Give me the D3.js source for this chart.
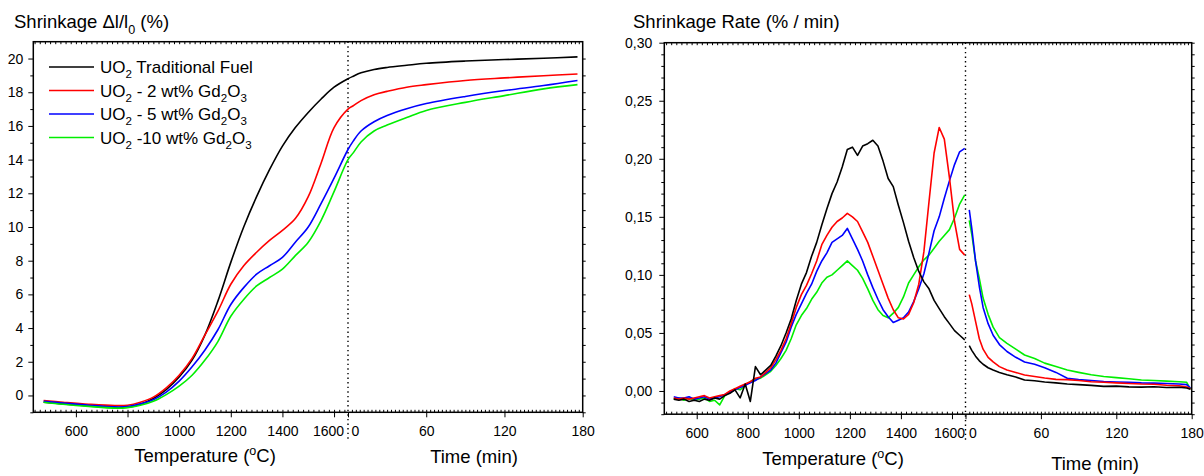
<!DOCTYPE html>
<html lang="en">
<head>
<meta charset="utf-8">
<script src="https://d3js.org/d3.v7.min.js"></script>
<style>
  body { margin: 0; background: #fff; }
  svg { display: block; font-family: 'Liberation Sans', Arial, sans-serif; }
  .tick text { font-size: 14px; fill: #000; font-family: 'Liberation Sans', Arial, sans-serif; }
  .tick line { stroke: #000; }
</style>
</head>
<body>
<div id="chart"></div>
<script>
// ---- shared series info
const seriesNames = ["UO2 Traditional Fuel", "UO2 - 2 wt% Gd2O3", "UO2 - 5 wt% Gd2O3", "UO2 -10 wt% Gd2O3"];
const seriesColors = ["#000000", "#ff0000", "#0000ff", "#00ee00"];

// ---- left panel: shrinkage (%) vs temperature, then vs time
const shrinkTemp = [475, 550, 650, 750, 800, 850, 900, 950, 1000, 1050, 1100, 1150, 1200, 1250, 1300, 1350, 1400, 1450, 1500, 1550, 1600, 1654];
const shrinkBlackT = [-0.40, -0.50, -0.62, -0.72, -0.70, -0.52, -0.18, 0.35, 1.1, 2.1, 3.6, 5.6, 7.9, 10.0, 11.8, 13.4, 14.8, 15.9, 16.8, 17.6, 18.3, 18.8];
const shrinkRedT   = [-0.30, -0.40, -0.52, -0.60, -0.58, -0.40, -0.10, 0.45, 1.2, 2.2, 3.6, 5.0, 6.6, 7.7, 8.5, 9.2, 9.8, 10.5, 11.8, 13.8, 15.9, 17.0];
const shrinkBlueT  = [-0.35, -0.45, -0.58, -0.68, -0.66, -0.50, -0.25, 0.20, 0.85, 1.7, 2.7, 3.9, 5.4, 6.4, 7.2, 7.7, 8.2, 9.1, 10.0, 11.4, 12.9, 14.6];
const shrinkGreenT = [-0.40, -0.52, -0.65, -0.75, -0.72, -0.58, -0.35, 0.05, 0.55, 1.2, 2.1, 3.2, 4.7, 5.7, 6.5, 7.0, 7.5, 8.3, 9.1, 10.4, 12.1, 14.0];

const shrinkTime = [4, 10, 20, 30, 45, 60, 90, 120, 150, 176];
const shrinkBlackt = [18.95, 19.15, 19.35, 19.47, 19.6, 19.72, 19.85, 19.94, 20.02, 20.1];
const shrinkRedt   = [17.2, 17.5, 17.85, 18.05, 18.3, 18.45, 18.7, 18.85, 18.98, 19.08];
const shrinkBluet  = [15.1, 15.7, 16.25, 16.62, 17.02, 17.33, 17.75, 18.1, 18.4, 18.7];
const shrinkGreent = [14.4, 15.05, 15.7, 16.05, 16.5, 16.92, 17.4, 17.8, 18.2, 18.45];

// ---- right panel: shrinkage rate (%/min)
const rateTemp = [510, 530, 550, 570, 590, 610, 630, 650, 670, 690, 710, 730, 750, 770, 790, 810, 830, 850, 870, 890,
  910, 930, 950, 970, 990, 1010, 1030, 1050, 1070, 1090, 1110, 1130, 1150, 1170, 1190, 1210, 1230, 1250, 1270, 1290,
  1310, 1330, 1350, 1370, 1390, 1410, 1430, 1450, 1470, 1490, 1510, 1530, 1550, 1570, 1590, 1610, 1630, 1650];
const rateBlackT = [-0.007, -0.008, -0.007, -0.009, -0.008, -0.009, -0.007, -0.008, -0.006, -0.007, -0.004, -0.002, 0.001, -0.006, 0.006, -0.009, 0.021, 0.014, 0.018, 0.022,
  0.030, 0.039, 0.050, 0.062, 0.078, 0.092, 0.102, 0.116, 0.128, 0.143, 0.157, 0.170, 0.180, 0.193, 0.208, 0.210, 0.203, 0.211, 0.213, 0.216,
  0.211, 0.198, 0.183, 0.176, 0.160, 0.145, 0.129, 0.115, 0.103, 0.094, 0.088, 0.078, 0.071, 0.064, 0.058, 0.052, 0.048, 0.044];
const rateRedT = [-0.006, -0.007, -0.006, -0.007, -0.006, -0.005, -0.004, -0.006, -0.005, -0.004, -0.003, 0.000, 0.002, 0.004, 0.006, 0.008, 0.011, 0.012, 0.016, 0.020,
  0.027, 0.035, 0.045, 0.058, 0.072, 0.083, 0.091, 0.101, 0.112, 0.126, 0.134, 0.141, 0.146, 0.149, 0.153, 0.150, 0.146, 0.137, 0.128, 0.116,
  0.104, 0.092, 0.080, 0.070, 0.063, 0.062, 0.066, 0.076, 0.092, 0.120, 0.163, 0.205, 0.227, 0.217, 0.184, 0.146, 0.122, 0.117];
const rateBlueT = [-0.005, -0.006, -0.006, -0.005, -0.007, -0.006, -0.005, -0.007, -0.006, -0.005, -0.003, -0.001, 0.001, 0.003, 0.005, 0.007, 0.009, 0.012, 0.015, 0.018,
  0.024, 0.033, 0.042, 0.055, 0.066, 0.075, 0.084, 0.092, 0.103, 0.112, 0.119, 0.128, 0.131, 0.134, 0.140, 0.131, 0.122, 0.112, 0.100, 0.089,
  0.079, 0.070, 0.064, 0.059, 0.061, 0.063, 0.068, 0.077, 0.088, 0.101, 0.119, 0.138, 0.150, 0.166, 0.181, 0.195, 0.206, 0.209];
const rateGreenT = [-0.007, -0.006, -0.008, -0.006, -0.008, -0.007, -0.006, -0.009, -0.008, -0.012, -0.004, -0.001, 0.002, 0.001, 0.005, 0.008, 0.010, 0.011, 0.014, 0.017,
  0.022, 0.028, 0.035, 0.045, 0.057, 0.065, 0.071, 0.079, 0.085, 0.093, 0.098, 0.100, 0.104, 0.108, 0.112, 0.108, 0.104, 0.097, 0.088, 0.078,
  0.070, 0.065, 0.063, 0.067, 0.072, 0.081, 0.093, 0.100, 0.107, 0.113, 0.117, 0.123, 0.129, 0.134, 0.139, 0.149, 0.161, 0.169];

const rateTime = [3, 5, 8, 11, 14, 18, 22, 27, 33, 40, 47, 55, 63, 72, 81, 90, 100, 110, 120, 130, 140, 150, 160, 170, 176, 179];
const rateBlackt = [0.039, 0.035, 0.030, 0.026, 0.023, 0.020, 0.018, 0.016, 0.014, 0.012, 0.0095, 0.0088, 0.0078, 0.007, 0.006, 0.0055, 0.0048, 0.004, 0.0042, 0.0035, 0.0033, 0.0036, 0.003, 0.0032, 0.0025, 0.0015];
const rateRedt   = [0.083, 0.075, 0.060, 0.045, 0.036, 0.029, 0.025, 0.021, 0.018, 0.016, 0.0138, 0.0125, 0.0112, 0.010, 0.0098, 0.009, 0.008, 0.0075, 0.007, 0.0065, 0.006, 0.0058, 0.005, 0.0045, 0.0035, 0.002];
const rateBluet  = [0.156, 0.140, 0.112, 0.090, 0.072, 0.058, 0.048, 0.040, 0.034, 0.029, 0.025, 0.023, 0.020, 0.016, 0.011, 0.0098, 0.009, 0.0082, 0.0078, 0.0075, 0.007, 0.0068, 0.0065, 0.006, 0.0055, 0.0025];
const rateGreent = [0.147, 0.135, 0.112, 0.097, 0.080, 0.066, 0.055, 0.046, 0.041, 0.036, 0.031, 0.028, 0.024, 0.021, 0.018, 0.016, 0.014, 0.0125, 0.0115, 0.0105, 0.0095, 0.009, 0.0085, 0.008, 0.0075, 0.0015];

// ---- tick labels
const tempTicks = [600, 800, 1000, 1200, 1400, 1600];
const timeTicks = [0, 60, 120, 180];
const shrinkTicks = [0, 2, 4, 6, 8, 10, 12, 14, 16, 18, 20];
const rateTicks = [0, 0.05, 0.10, 0.15, 0.20, 0.25, 0.30];

const shrinkSeries = [
  { T: shrinkBlackT, t: shrinkBlackt }, { T: shrinkRedT, t: shrinkRedt },
  { T: shrinkBlueT, t: shrinkBluet }, { T: shrinkGreenT, t: shrinkGreent }
];
const rateSeries = [
  { T: rateBlackT, t: rateBlackt }, { T: rateRedT, t: rateRedt },
  { T: rateBlueT, t: rateBluet }, { T: rateGreenT, t: rateGreent }
];

const width = 1204, height = 476;
const svg = d3.select("#chart").append("svg")
    .attr("width", width).attr("height", height);

// panel geometry
const L = { left: 33.3, right: 582.7, top: 41.7, bottom: 412.3, split: 348 };
const R = { left: 664.3, right: 1191.7, top: 42.7, bottom: 414.2, split: 965.5 };

const xTL = d3.scaleLinear().domain([435, 1654]).range([L.left, L.split]);
const xtL = d3.scaleLinear().domain([0, 180]).range([L.split, L.right]);
const yL = d3.scaleLinear().domain([-1, 21]).range([L.bottom, L.top]);

const xTR = d3.scaleLinear().domain([473, 1653]).range([R.left, R.split]);
const xtR = d3.scaleLinear().domain([0, 180]).range([R.split, R.right]);
const yR = d3.scaleLinear().domain([-0.02, 0.30]).range([R.bottom, R.top]);

function noDomain(g) { g.select(".domain").remove(); }

// draws frame, ticks and the dotted split line of one panel
function drawFrame(P, xT, xt, y, opt) {
  const g = svg.append("g");

  // bottom minor ticks (inward) + top minor ticks
  [[P.bottom, d3.axisBottom], [P.top, d3.axisTop]].forEach(([yy, ax]) => {
    g.append("g").attr("transform", `translate(0,${yy})`)
      .call(ax(xT).tickValues(d3.range(opt.tMin, 1650, 20)).tickSize(-2.5).tickFormat(""))
      .call(noDomain);
    g.append("g").attr("transform", `translate(0,${yy})`)
      .call(ax(xt).tickValues(d3.range(3, 180, 3)).tickSize(-2.5).tickFormat(""))
      .call(noDomain);
  });

  // bottom major ticks
  const bt = g.append("g").attr("transform", `translate(0,${P.bottom})`)
    .call(d3.axisBottom(xT).tickValues(tempTicks).tickSize(5).tickPadding(opt.xPad).tickFormat(d => d))
    .call(noDomain);
  bt.selectAll(".tick text").filter(d => d === 1600).attr("dx", opt.shift1600);
  const bt2 = g.append("g").attr("transform", `translate(0,${P.bottom})`)
    .call(d3.axisBottom(xt).tickValues(timeTicks).tickSize(5).tickPadding(opt.xPad).tickFormat(d => d))
    .call(noDomain);
  bt2.selectAll(".tick text").filter(d => d === 0).attr("dx", 7);

  // left ticks
  g.append("g").attr("transform", `translate(${P.left},0)`)
    .call(d3.axisLeft(y).tickValues(opt.yMinor).tickSize(3).tickFormat(""))
    .call(noDomain);
  g.append("g").attr("transform", `translate(${P.left},0)`)
    .call(d3.axisLeft(y).tickValues(opt.yMajor).tickSize(5).tickPadding(opt.yPad).tickFormat(opt.yFmt))
    .call(noDomain);

  // right ticks
  g.append("g").attr("transform", `translate(${P.right},0)`)
    .call(d3.axisRight(y).tickValues(opt.yMinor.concat(opt.yMajor)).tickSize(3).tickFormat(""))
    .call(noDomain);

  g.selectAll(".tick line").attr("stroke-width", 1);

  g.append("rect")
    .attr("x", P.left).attr("y", P.top)
    .attr("width", P.right - P.left).attr("height", P.bottom - P.top)
    .attr("fill", "none").attr("stroke", "#000").attr("stroke-width", 1.5);

  g.append("line")
    .attr("x1", P.split).attr("x2", P.split)
    .attr("y1", P.top).attr("y2", opt.dotEnd)
    .attr("stroke", "#000").attr("stroke-width", 1.4)
    .attr("stroke-dasharray", "1.4,3.2");
}

drawFrame(L, xTL, xtL, yL, {
  tMin: 440, xPad: 9, shift1600: -6, yPad: 5, dotEnd: 440,
  yMajor: shrinkTicks, yMinor: d3.range(-1, 21, 2),
  yFmt: d => d
});
drawFrame(R, xTR, xtR, yR, {
  tMin: 480, xPad: 9, shift1600: -3, yPad: 7, dotEnd: 443,
  yMajor: rateTicks, yMinor: d3.range(-0.02, 0.30, 0.01).filter(v => Math.abs(Math.round(v * 100) % 5) !== 0),
  yFmt: d => d.toFixed(2).replace(".", ",")
});

// ---- left curves
const smooth = d3.line().curve(d3.curveCatmullRom.alpha(0.5));
shrinkSeries.forEach((s, i) => {
  const pts = shrinkTemp.map((T, k) => [xTL(T), yL(s.T[k])])
    .concat(shrinkTime.map((t, k) => [xtL(t), yL(s.t[k])]));
  svg.append("path")
    .attr("d", smooth(pts))
    .attr("fill", "none")
    .attr("stroke", seriesColors[i])
    .attr("stroke-width", 1.6);
});

// ---- right curves (two separate segments)
const jag = d3.line();
rateSeries.slice().reverse().forEach((s, j) => {
  const i = rateSeries.length - 1 - j;
  const seg1 = rateTemp.map((T, k) => [xTR(T), yR(s.T[k])]);
  const seg2 = rateTime.map((t, k) => [xtR(t), yR(s.t[k])]);
  [seg1, seg2].forEach(seg => {
    svg.append("path")
      .attr("d", jag(seg))
      .attr("fill", "none")
      .attr("stroke", seriesColors[i])
      .attr("stroke-width", 1.6)
      .attr("stroke-linejoin", "round");
  });
});

// ---- text helpers
function richText(x, y, parts, size, anchor) {
  const t = svg.append("text")
    .attr("x", x).attr("y", y)
    .attr("font-size", size)
    .attr("fill", "#000")
    .attr("text-anchor", anchor || "start");
  let shift = 0;
  parts.forEach(p => {
    const kind = p[1] || "";
    const target = kind === "sub" ? size * 0.3 : kind === "sup" ? -size * 0.4 : 0;
    t.append("tspan")
      .attr("dy", target - shift)
      .attr("font-size", kind ? size * 0.68 : size)
      .text(p[0]);
    shift = target;
  });
  return t;
}

// titles
richText(14, 28, [["Shrinkage "], ["\u0394"], ["l/l"], ["0", "sub"], [" (%)"]], 18.5);
richText(633, 28, [["Shrinkage Rate (% / min)"]], 18.5);

// axis titles
richText(205, 462, [["Temperature ("], ["o", "sup"], ["C)"]], 18.5, "middle");
richText(474, 463, [["Time (min)"]], 18.5, "middle");
richText(833, 465, [["Temperature ("], ["o", "sup"], ["C)"]], 18.5, "middle");
richText(1095, 470, [["Time (min)"]], 18.5, "middle");

// legend
const legendParts = [
  [["UO"], ["2", "sub"], [" Traditional Fuel"]],
  [["UO"], ["2", "sub"], [" - 2 wt% Gd"], ["2", "sub"], ["O"], ["3", "sub"]],
  [["UO"], ["2", "sub"], [" - 5 wt% Gd"], ["2", "sub"], ["O"], ["3", "sub"]],
  [["UO"], ["2", "sub"], [" -10 wt% Gd"], ["2", "sub"], ["O"], ["3", "sub"]]
];
const legendY = [67, 90.5, 114, 137.5];
seriesNames.forEach((name, i) => {
  svg.append("line")
    .attr("x1", 49).attr("x2", 94)
    .attr("y1", legendY[i]).attr("y2", legendY[i])
    .attr("stroke", seriesColors[i]).attr("stroke-width", 1.6);
  richText(100, legendY[i] + 6, legendParts[i], 17).append("title").text(name);
});
</script>
</body>
</html>
